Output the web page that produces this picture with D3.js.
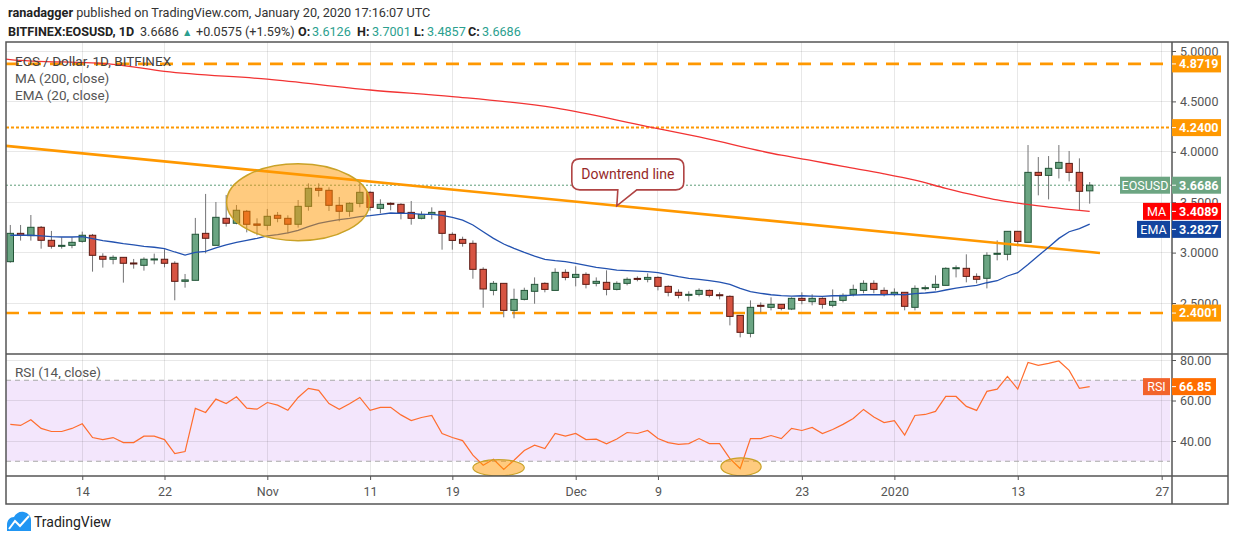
<!DOCTYPE html>
<html>
<head>
<meta charset="utf-8">
<title>EOS / Dollar, 1D, BITFINEX</title>
<script src="https://cdn.jsdelivr.net/npm/d3@7"></script>
<style>
  body { margin: 0; background: #fff; }
  #chart svg { display: block; font-family: Roboto, "Noto Sans", sans-serif; }
</style>
</head>
<body>
<div id="chart"></div>
<script>
// daily candles from 2019-10-07 to 2020-01-20
const firstDay = "2019-10-07";

const opens = [2.910,3.191,3.168,3.251,3.122,3.063,3.072,3.112,3.172,2.963,
  2.934,2.953,2.897,2.874,2.930,2.934,2.894,2.715,2.725,3.191,
  3.072,3.340,3.291,3.410,3.284,3.271,3.370,3.340,3.281,3.459,
  3.638,3.618,3.469,3.410,3.489,3.598,3.439,3.489,3.479,3.399,
  3.340,3.379,3.409,3.181,3.131,3.092,2.834,2.625,2.695,2.427,
  2.536,2.616,2.695,2.625,2.804,2.754,2.784,2.695,2.705,2.635,
  2.695,2.744,2.735,2.754,2.665,2.606,2.576,2.586,2.625,2.582,
  2.566,2.377,2.199,2.477,2.457,2.487,2.440,2.546,2.513,2.546,
  2.477,2.526,2.586,2.625,2.695,2.625,2.586,2.606,2.457,2.645,
  2.655,2.675,2.844,2.844,2.764,2.745,2.983,2.983,3.211,3.102,
  3.796,3.766,3.836,3.885,3.796,3.6126];

const highs = [3.274,3.274,3.373,3.264,3.215,3.152,3.152,3.208,3.185,2.993,
  2.973,2.953,2.937,2.953,2.990,3.033,2.914,2.788,3.344,3.582,
  3.502,3.572,3.472,3.423,3.340,3.433,3.403,3.370,3.522,3.687,
  3.687,3.648,3.552,3.499,3.687,3.608,3.529,3.499,3.489,3.512,
  3.409,3.449,3.409,3.201,3.158,3.121,2.854,2.718,2.695,2.642,
  2.652,2.754,2.705,2.844,2.834,2.864,2.804,2.754,2.824,2.715,
  2.754,2.764,2.794,2.764,2.675,2.635,2.616,2.645,2.635,2.606,
  2.576,2.377,2.526,2.506,2.556,2.487,2.556,2.606,2.586,2.556,
  2.635,2.596,2.682,2.725,2.725,2.655,2.645,2.606,2.675,2.675,
  2.774,2.854,2.873,2.983,2.794,3.003,3.121,3.211,3.211,4.067,
  3.948,3.958,4.067,4.008,3.935,3.7001];

const lows = [2.900,3.119,3.119,3.039,3.039,3.039,3.043,3.099,2.811,2.851,
  2.884,2.702,2.841,2.821,2.884,2.854,2.527,2.652,2.725,2.993,
  3.072,3.258,3.281,3.201,3.172,3.221,3.301,3.191,3.248,3.416,
  3.555,3.413,3.310,3.357,3.449,3.416,3.390,3.420,3.330,3.277,
  3.330,3.330,3.029,3.029,3.059,2.741,2.453,2.576,2.358,2.348,
  2.526,2.493,2.606,2.625,2.725,2.665,2.645,2.665,2.576,2.625,
  2.675,2.715,2.705,2.625,2.566,2.546,2.516,2.566,2.556,2.536,
  2.278,2.159,2.159,2.407,2.427,2.427,2.430,2.487,2.477,2.444,
  2.457,2.506,2.566,2.596,2.596,2.566,2.566,2.427,2.427,2.625,
  2.625,2.675,2.754,2.705,2.695,2.645,2.923,2.923,3.062,3.102,
  3.568,3.528,3.736,3.707,3.419,3.4857];

const closes = [3.191,3.172,3.251,3.122,3.063,3.072,3.102,3.172,2.973,2.934,
  2.953,2.894,2.891,2.934,2.937,2.894,2.715,2.729,3.182,3.142,
  3.350,3.291,3.420,3.281,3.271,3.360,3.340,3.281,3.459,3.638,
  3.618,3.469,3.410,3.489,3.598,3.449,3.479,3.479,3.396,3.340,
  3.379,3.399,3.191,3.121,3.092,2.834,2.639,2.695,2.427,2.536,
  2.625,2.685,2.635,2.804,2.754,2.784,2.685,2.715,2.635,2.695,
  2.735,2.735,2.754,2.665,2.606,2.576,2.586,2.625,2.576,2.576,
  2.367,2.209,2.457,2.467,2.487,2.447,2.546,2.526,2.546,2.487,
  2.516,2.576,2.635,2.695,2.635,2.586,2.606,2.467,2.645,2.652,
  2.685,2.844,2.850,2.764,2.735,2.973,2.993,3.211,3.111,3.796,
  3.766,3.836,3.895,3.796,3.608,3.6686];

const ema20 = [3.172,3.172,3.172,3.165,3.158,3.155,3.155,3.158,3.139,3.119,
  3.105,3.089,3.076,3.062,3.053,3.039,3.006,2.976,3.003,3.013,
  3.046,3.076,3.102,3.122,3.142,3.165,3.178,3.195,3.221,3.258,
  3.291,3.310,3.327,3.340,3.357,3.367,3.380,3.393,3.389,3.389,
  3.379,3.379,3.369,3.350,3.323,3.274,3.207,3.141,3.085,3.042,
  3.002,2.966,2.933,2.920,2.910,2.893,2.873,2.854,2.840,2.827,
  2.821,2.817,2.811,2.801,2.781,2.761,2.744,2.735,2.721,2.708,
  2.685,2.645,2.612,2.596,2.582,2.573,2.568,2.572,2.569,2.566,
  2.572,2.572,2.579,2.582,2.582,2.582,2.586,2.582,2.592,2.599,
  2.609,2.629,2.648,2.662,2.675,2.701,2.721,2.768,2.801,2.883,
  2.969,3.052,3.141,3.207,3.237,3.2827];

const rsi14 = [48.2,47.7,50.5,46.2,44.7,44.7,46.2,48.5,41.7,40.7,
  41.7,39.2,39.2,42.4,42.4,40.7,33.8,34.8,56.1,54.1,
  60.7,58.5,61.8,56.2,55.7,59.0,57.7,55.2,61.5,66.0,
  65.0,58.5,55.7,58.4,61.5,55.1,56.6,56.6,52.9,50.1,
  51.6,52.6,43.7,41.7,40.2,33.0,28.0,31.0,26.0,30.5,
  35.3,37.9,36.3,43.7,42.4,43.7,40.7,40.9,38.6,41.0,
  44.2,43.7,45.2,41.2,39.2,38.3,38.7,41.2,38.7,38.7,
  31.3,26.4,41.2,41.2,42.7,41.2,46.2,45.2,46.7,43.7,
  45.7,48.2,51.1,55.6,51.8,49.1,50.1,42.9,52.6,53.1,
  54.6,62.0,62.0,57.1,55.1,64.5,65.6,71.9,65.6,78.8,
  77.4,78.3,79.5,74.9,66.0,66.85];

const maDates = ["2019-10-06","2019-10-07","2019-10-17","2019-10-22","2019-11-01","2019-11-11",
  "2019-11-19","2019-11-29","2019-12-08","2019-12-13","2019-12-21","2019-12-24","2019-12-27",
  "2019-12-31","2020-01-03","2020-01-06","2020-01-09","2020-01-11","2020-01-13","2020-01-16","2020-01-20"];
const ma200 = [4.925,4.915,4.868,4.797,4.720,4.613,4.548,4.435,4.250,4.147,3.966,3.912,3.855,
  3.782,3.718,3.638,3.565,3.522,3.490,3.452,3.4089];

const trendDates = ["2019-10-06", "2020-01-21"];
const trendPrices = [4.065, 2.996];

const levels = [4.8719, 4.2400, 2.4001];
const lastPrice = 3.6686, lastMA = 3.4089, lastEMA = 3.2827, lastRSI = 66.85;

const priceTicks = [2.5, 3.0, 3.5, 4.0, 4.5, 5.0];
const rsiTicks = [40, 60, 80];
const dateTicks = ["2019-10-14","2019-10-22","2019-11-01","2019-11-11","2019-11-19","2019-12-01",
  "2019-12-09","2019-12-23","2020-01-01","2020-01-13","2020-01-27"];
const dateTickLabels = ["14","22","Nov","11","19","Dec","9","23","2020","13","27"];

const parseDay = d3.utcParse("%Y-%m-%d");
const parseTime = d3.utcParse("%Y-%m-%dT%H:%M");

const candles = opens.map((o, i) => ({
  date: d3.utcDay.offset(parseDay(firstDay), i),
  o, h: highs[i], l: lows[i], c: closes[i], ema: ema20[i], rsi: rsi14[i]
}));
const maPoints = maDates.map((d, i) => ({date: parseDay(d), v: ma200[i]}));
const trendPoints = trendDates.map((d, i) => ({date: parseDay(d), v: trendPrices[i]}));
const tickDates = dateTicks.map(parseDay);

const frame = {left: 6, axisX: 1172, right: 1228, top: 42, split: 354, rsiBottom: 476, bottom: 504};

const x = d3.scaleUtc()
  .domain([parseDay("2019-10-07"), parseDay("2020-01-20")])
  .range([10.3, 1089.7]);
const y = d3.scaleLinear().domain([2.5, 5]).range([303, 51]);
const yRsi = d3.scaleLinear().domain([40, 80]).range([441, 360]);

const svg = d3.select("#chart")
  .append("svg")
  .attr("width", 1234)
  .attr("height", 540);

const defs = svg.append("defs");
defs.append("clipPath").attr("id", "clip-main").append("rect")
  .attr("x", frame.left).attr("y", frame.top)
  .attr("width", frame.axisX - frame.left).attr("height", frame.split - frame.top);
defs.append("clipPath").attr("id", "clip-rsi").append("rect")
  .attr("x", frame.left).attr("y", frame.split)
  .attr("width", frame.axisX - frame.left).attr("height", frame.rsiBottom - frame.split);

// header
const head1 = svg.append("text").attr("x", 8).attr("y", 17)
  .attr("font-size", 12.7).attr("fill", "#333");
head1.append("tspan").attr("font-weight", "bold").attr("fill", "#222").text("ranadagger");
head1.append("tspan").text(" published on TradingView.com, January 20, 2020 17:16:07 UTC");

const head2 = svg.append("g").attr("font-size", 12.6).attr("fill", "#333");
const teal = "#2b9f8f";
[
  {x: 8, t: "BITFINEX:EOSUSD, 1D", b: true},
  {x: 140, t: "3.6686"},
  {x: 182, t: "▲", c: teal, s: 10.5},
  {x: 196, t: "+0.0575 (+1.59%)"},
  {x: 298, t: "O:", b: true}, {x: 312, t: "3.6126", c: teal},
  {x: 357, t: "H:", b: true}, {x: 372, t: "3.7001", c: teal},
  {x: 414, t: "L:", b: true}, {x: 427, t: "3.4857", c: teal},
  {x: 468, t: "C:", b: true}, {x: 482, t: "3.6686", c: teal}
].forEach(p => {
  head2.append("text").attr("x", p.x).attr("y", 36)
    .attr("font-weight", p.b ? "bold" : null)
    .attr("fill", p.c || (p.b ? "#222" : "#333"))
    .attr("font-size", p.s || null)
    .text(p.t);
});

// rsi band
svg.append("rect")
  .attr("x", frame.left).attr("width", 1170 - frame.left)
  .attr("y", yRsi(70)).attr("height", yRsi(30) - yRsi(70))
  .attr("fill", "#f3e6fc");

// grid
const grid = svg.append("g")
  .attr("stroke", "#000").attr("stroke-opacity", 0.09)
  .attr("shape-rendering", "crispEdges");
grid.selectAll(null).data(tickDates).join("line")
  .attr("x1", d => x(d)).attr("x2", d => x(d))
  .attr("y1", frame.top).attr("y2", frame.rsiBottom);
grid.selectAll(null).data(priceTicks).join("line")
  .attr("x1", frame.left).attr("x2", frame.axisX)
  .attr("y1", d => y(d)).attr("y2", d => y(d));
grid.selectAll(null).data(rsiTicks).join("line")
  .attr("x1", frame.left).attr("x2", frame.axisX)
  .attr("y1", d => yRsi(d)).attr("y2", d => yRsi(d));

svg.append("g").selectAll(null).data([70, 30]).join("line")
  .attr("x1", frame.left).attr("x2", 1170)
  .attr("y1", d => yRsi(d)).attr("y2", d => yRsi(d))
  .attr("stroke", "#a8a8a8").attr("stroke-dasharray", "5,4");

// main pane
const main = svg.append("g").attr("clip-path", "url(#clip-main)");

const levelDash = ["13,9", "3,2", "13,9"];
const levelWidth = [2.6, 2, 2.6];
main.selectAll(null).data(levels).join("line")
  .attr("x1", frame.left).attr("x2", frame.axisX)
  .attr("y1", d => y(d)).attr("y2", d => y(d))
  .attr("stroke", "#ff9800")
  .attr("stroke-width", (d, i) => levelWidth[i])
  .attr("stroke-dasharray", (d, i) => levelDash[i]);

main.append("line")
  .attr("x1", frame.left).attr("x2", frame.axisX)
  .attr("y1", y(lastPrice)).attr("y2", y(lastPrice))
  .attr("stroke", "#5d9c78").attr("stroke-dasharray", "2,2");

main.selectAll(null).data(candles).join("line")
  .attr("x1", d => x(d.date)).attr("x2", d => x(d.date))
  .attr("y1", d => y(d.h)).attr("y2", d => y(d.l))
  .attr("stroke", "#737375");

main.selectAll(null).data(candles).join("rect")
  .attr("x", d => x(d.date) - 3.2)
  .attr("width", 6.4)
  .attr("y", d => y(Math.max(d.o, d.c)))
  .attr("height", d => Math.max(1, Math.abs(y(d.o) - y(d.c))))
  .attr("fill", d => d.c >= d.o ? "#6ba583" : "#d75442")
  .attr("stroke", d => d.c >= d.o ? "#225437" : "#5b1a13");

main.append("path")
  .datum(trendPoints)
  .attr("fill", "none")
  .attr("stroke", "#ff9800")
  .attr("stroke-width", 2.6)
  .attr("d", d3.line().x(d => x(d.date)).y(d => y(d.v)));

main.append("path")
  .datum(maPoints)
  .attr("fill", "none")
  .attr("stroke", "#f23333")
  .attr("stroke-width", 1.3)
  .attr("d", d3.line().curve(d3.curveMonotoneX).x(d => x(d.date)).y(d => y(d.v)));

main.append("path")
  .datum(candles)
  .attr("fill", "none")
  .attr("stroke", "#2352b0")
  .attr("stroke-width", 1.3)
  .attr("d", d3.line().x(d => x(d.date)).y(d => y(d.ema)));

// annotations
const ringCenter = parseDay("2019-11-04");
main.append("ellipse")
  .attr("cx", x(ringCenter))
  .attr("cy", y(3.50))
  .attr("rx", x(d3.utcHour.offset(ringCenter, 167)) - x(ringCenter))
  .attr("ry", y(3.50) - y(3.882))
  .attr("fill", "#ff9800").attr("fill-opacity", 0.5)
  .attr("stroke", "#c9a227").attr("stroke-width", 1.5);

const tipDate = parseDay("2019-12-05"), tipPrice = 3.464;
const tx = x(tipDate), ty = y(tipPrice);
const bx0 = tx - 45, bx1 = tx + 67, by0 = ty - 47, by1 = ty - 16, r = 8;
main.append("path")
  .attr("d", `M${bx0 + r},${by0}H${bx1 - r}Q${bx1},${by0} ${bx1},${by0 + r}V${by1 - r}` +
    `Q${bx1},${by1} ${bx1 - r},${by1}H${tx + 20}L${tx},${ty}L${tx + 1},${by1}H${bx0 + r}` +
    `Q${bx0},${by1} ${bx0},${by1 - r}V${by0 + r}Q${bx0},${by0} ${bx0 + r},${by0}Z`)
  .attr("fill", "#fff")
  .attr("stroke", "#b04444")
  .attr("stroke-width", 1.6);
main.append("text")
  .attr("x", (bx0 + bx1) / 2).attr("y", (by0 + by1) / 2)
  .attr("dy", "0.35em").attr("text-anchor", "middle")
  .attr("font-size", 14).attr("fill", "#962828")
  .text("Downtrend line");

const legend = main.append("g").attr("font-size", 13.5).attr("fill", "#555");
legend.append("text").attr("x", 15).attr("y", 66).attr("fill", "#444").text("EOS / Dollar, 1D, BITFINEX");
legend.append("text").attr("x", 15).attr("y", 83).text("MA (200, close)");
legend.append("text").attr("x", 15).attr("y", 100).text("EMA (20, close)");

// rsi pane
const rsiPane = svg.append("g").attr("clip-path", "url(#clip-rsi)");
rsiPane.append("path")
  .datum(candles)
  .attr("fill", "none")
  .attr("stroke", "#ff6d2e")
  .attr("stroke-width", 1.2)
  .attr("d", d3.line().x(d => x(d.date)).y(d => yRsi(d.rsi)));

const rsiRings = [
  {c: parseTime("2019-11-23T12:00"), v: 26.8, hours: 60, dv: 4},
  {c: parseTime("2019-12-17T02:00"), v: 27.3, hours: 47, dv: 4.4}
];
rsiPane.selectAll(null).data(rsiRings).join("ellipse")
  .attr("cx", d => x(d.c)).attr("cy", d => yRsi(d.v))
  .attr("rx", d => x(d3.utcHour.offset(d.c, d.hours)) - x(d.c))
  .attr("ry", d => yRsi(d.v - d.dv) - yRsi(d.v))
  .attr("fill", "#ff9800").attr("fill-opacity", 0.5)
  .attr("stroke", "#c9a227").attr("stroke-width", 1.2);

svg.append("text").attr("x", 15).attr("y", 377)
  .attr("font-size", 13.5).attr("fill", "#555")
  .text("RSI (14, close)");

// axes
const axisStyle = g => {
  g.select(".domain").remove();
  g.selectAll(".tick line").attr("stroke", "#555");
  g.selectAll(".tick text").attr("fill", "#555").attr("font-size", 12.5)
    .attr("font-family", "Roboto, 'Noto Sans', sans-serif");
};

svg.append("g")
  .attr("transform", `translate(${frame.axisX},0)`)
  .call(d3.axisRight(y).tickValues(priceTicks).tickFormat(d3.format(".4f")).tickSize(4).tickPadding(4))
  .call(axisStyle);

svg.append("g")
  .attr("transform", `translate(${frame.axisX},0)`)
  .call(d3.axisRight(yRsi).tickValues(rsiTicks).tickFormat(d3.format(".2f")).tickSize(4).tickPadding(4))
  .call(axisStyle);

svg.append("g")
  .attr("transform", `translate(0,${frame.rsiBottom})`)
  .call(d3.axisBottom(x).tickValues(tickDates).tickFormat((d, i) => dateTickLabels[i]).tickSize(4).tickPadding(7))
  .call(axisStyle);

// frame
const border = svg.append("g").attr("stroke", "#555").attr("stroke-width", 1.5).attr("fill", "none");
border.append("rect")
  .attr("x", frame.left).attr("y", frame.top)
  .attr("width", frame.right - frame.left).attr("height", frame.bottom - frame.top);
border.append("line").attr("x1", frame.axisX).attr("x2", frame.axisX).attr("y1", frame.top).attr("y2", frame.bottom);
border.append("line").attr("x1", frame.left).attr("x2", frame.right).attr("y1", frame.split).attr("y2", frame.split);
border.append("line").attr("x1", frame.left).attr("x2", frame.right).attr("y1", frame.rsiBottom).attr("y2", frame.rsiBottom);

// price tags on the right scale
const tagH = 17;
function tag(yPos, value, color, label, labelWidth, labelColor, valueWidth) {
  const g = svg.append("g").attr("font-size", 12.5).attr("fill", "#fff");
  if (label) {
    g.append("rect")
      .attr("x", frame.axisX - 2 - labelWidth).attr("y", yPos - tagH / 2)
      .attr("width", labelWidth).attr("height", tagH)
      .attr("fill", labelColor || color);
    g.append("text")
      .attr("x", frame.axisX - 2 - labelWidth / 2).attr("y", yPos)
      .attr("dy", "0.35em").attr("text-anchor", "middle")
      .text(label);
  }
  g.append("rect")
    .attr("x", frame.axisX).attr("y", yPos - tagH / 2)
    .attr("width", valueWidth || 49).attr("height", tagH)
    .attr("fill", color);
  g.append("line")
    .attr("x1", frame.axisX).attr("x2", frame.axisX + 4)
    .attr("y1", yPos).attr("y2", yPos)
    .attr("stroke", "#fff");
  g.append("text")
    .attr("x", frame.axisX + 7).attr("y", yPos)
    .attr("dy", "0.35em").attr("font-weight", "bold")
    .text(value);
}

levels.forEach(v => tag(y(v), v.toFixed(4), "#ff9800"));
tag(y(lastPrice), lastPrice.toFixed(4), "#6ca582", "EOSUSD", 50);
const maY = y(lastMA);
tag(maY, lastMA.toFixed(4), "#ff0000", "MA", 27);
tag(Math.max(y(lastEMA), maY + tagH + 1), lastEMA.toFixed(4), "#12449e", "EMA", 33);
tag(yRsi(lastRSI), lastRSI.toFixed(2), "#ff6d00", "RSI", 27, "#f2632b", 44);

// logo
const logo = svg.append("g");
logo.append("path")
  .attr("d", "M7,531V525C7,520 10,517 14,517C16,513 20,511 24,512C28,513 31,516 31,520V531Z")
  .attr("fill", "#2196f3");
logo.append("polyline")
  .attr("points", "9,529 15,521 20,526 29,516")
  .attr("fill", "none").attr("stroke", "#fff").attr("stroke-width", 2);
logo.append("text").attr("x", 34).attr("y", 527)
  .attr("font-size", 14).attr("fill", "#222")
  .text("TradingView");
</script>
</body>
</html>
